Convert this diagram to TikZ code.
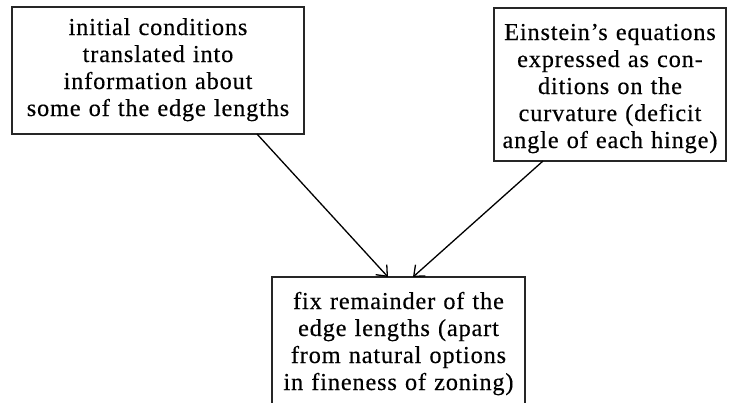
\documentclass[tikz,border=0pt]{standalone}
\usepackage{fontspec}
\setmainfont{Liberation Serif}[LetterSpace=3.5,FakeBold=0.4]
\usetikzlibrary{arrows.meta}
\begin{document}
\begin{tikzpicture}[x=1pt,y=-1pt,
  boxstyle/.style={draw=black!85,line width=1.3pt,inner sep=0pt,outer sep=0pt},
  txt/.style={inner sep=0pt,anchor=base,text width=300pt,align=center,
    font=\fontsize{24.3}{27}\selectfont},
  conn/.style={draw=black,line width=1.3pt,-{Straight Barb[length=9pt,width=15pt,line width=1.3pt]}}]
\useasboundingbox[fill=white] (0,0) rectangle (731,402);
% boxes
\node[boxstyle,minimum width=292pt,minimum height=127pt] (L) at (158,70.5) {};
\node[boxstyle,minimum width=232pt,minimum height=153pt] (R) at (610,84.5) {};
\node[boxstyle,minimum width=253pt,minimum height=138pt] (B) at (398.5,346) {};
% texts
\node[txt] (Lt) at (158,35) {initial conditions\\translated into\\information about\\some of the edge lengths};
\node[txt] (Rt) at (610,40) {Einstein’s equations\\expressed as con-\\ditions on the\\curvature (deficit\\angle of each hinge)};
\node[txt] (Bt) at (398.5,309) {fix remainder of the\\edge lengths (apart\\from natural options\\in fineness of zoning)};
% connectors
\draw[conn] ([xshift=-47pt]L.south east) -- ([xshift=-10.5pt]B.north);
\draw[conn] ([xshift=49pt]R.south west) -- ([xshift=14.5pt]B.north);
\end{tikzpicture}
\end{document}
